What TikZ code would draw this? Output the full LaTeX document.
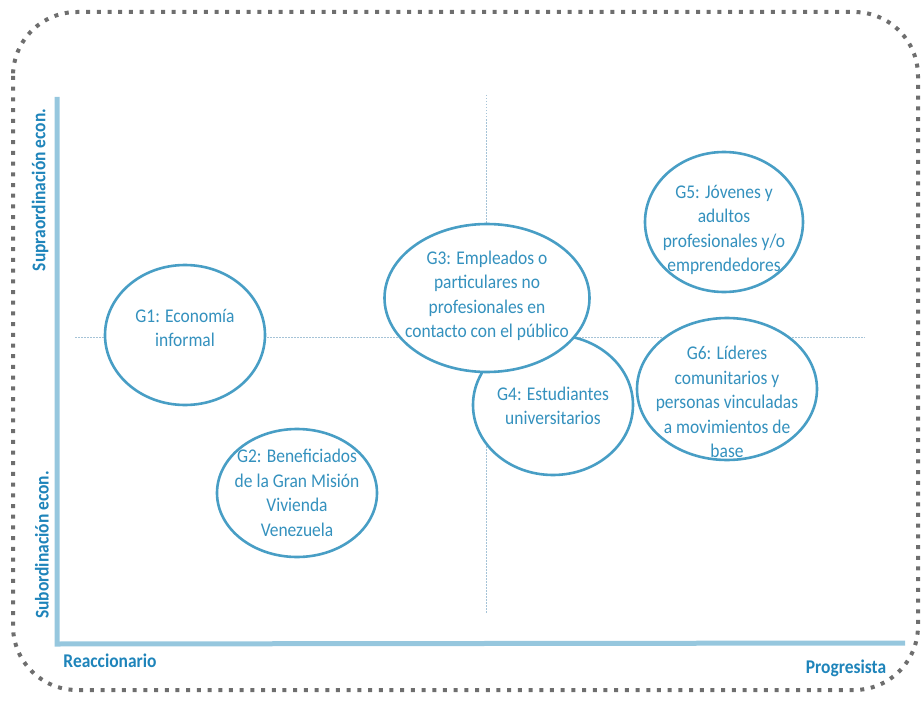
\documentclass[tikz,border=0pt]{standalone}
\usepackage{fontspec}
\setmainfont{Carlito}
\newfontfamily\angosta[FakeStretch=0.9]{Carlito}
\usepackage{tikz}
\usetikzlibrary{shapes.geometric}

\definecolor{borde}{RGB}{110,110,110}
\definecolor{ejeazul}{RGB}{150,199,222}
\definecolor{guia}{RGB}{165,195,215}
\definecolor{elipse}{RGB}{72,158,197}
\definecolor{textoazul}{RGB}{52,145,190}
\definecolor{rotulo}{RGB}{30,132,186}

\begin{document}
\begin{tikzpicture}[
            x=1pt, y=-1pt,
            grupo/.style={draw=elipse,line width=2.6pt,ellipse,inner sep=0pt,fill=white},
            texto/.style={text=textoazul,align=center,inner sep=0pt,
                font=\angosta\fontsize{19.4}{24.5}\selectfont},
            rotulo/.style={text=rotulo,inner sep=0pt,
                font=\angosta\fontsize{19.4}{20}\selectfont\bfseries},
            eje/.style={draw=ejeazul,line width=5pt},
            guia/.style={draw=guia,line width=1pt,dash pattern=on 1.5pt off 1.5pt}
            ]
            \useasboundingbox (0,0) rectangle (922,701);
            % marco punteado
            \draw[borde,line width=4pt,dash pattern=on 4pt off 6.7pt,rounded corners=64pt]
                (13,12) rectangle (918,690);

            % ejes
            \coordinate (ytop) at (57,97);
            \coordinate (origen) at (57,644);
            \coordinate (xend) at (905,643);
            \draw[eje] (ytop) -- (origen) -- (xend);

            % lineas guia
            \coordinate (hl) at (75,337);
            \coordinate (hr) at (865,337);
            \coordinate (vt) at (486,95);
            \coordinate (vb) at (486,613);
            \draw[guia] (hl) -- (hr);
            \draw[guia] (vt) -- (vb);

            % rotulos de ejes
            \node[rotulo,rotate=90] (supra) at (40,190) {Supraordinación econ.};
            \node[rotulo,rotate=90] (subor) at (42,545) {Subordinación econ.};
            \node[rotulo] (reacc) at (110,661) {Reaccionario};
            \node[rotulo] (progr) at (846,668) {Progresista};

            % grupos
            \node[grupo,minimum width=160pt,minimum height=140pt] (g1) at (185,335) {};
            \node[grupo,minimum width=160pt,minimum height=128pt] (g2) at (297,493) {};
            \node[grupo,minimum width=160pt,minimum height=140pt] (g4) at (553,405) {};
            \node[grupo,minimum width=205pt,minimum height=148pt] (g3) at (487,298) {};
            \node[grupo,minimum width=158pt,minimum height=140pt] (g5) at (724,222) {};
            \node[grupo,minimum width=180pt,minimum height=142pt] (g6) at (727,389) {};

            \node[texto] (t1) at (185,328) {G1: Economía\\informal};
            \node[texto] (t2) at (297,493) {G2: Beneficiados\\de la Gran Misión\\Vivienda\\Venezuela};
            \node[texto] (t3) at (487,296) {G3: Empleados o\\particulares no\\profesionales en\\contacto con el público};
            \node[texto] (t4) at (553,406) {G4: Estudiantes\\universitarios};
            \node[texto] (t5) at (724,230) {G5: Jóvenes y\\adultos\\profesionales y/o\\emprendedores};
            \node[texto] (t6) at (727,402) {G6: Líderes\\comunitarios y\\personas vinculadas\\a movimientos de\\base};
        \end{tikzpicture}
\end{document}
